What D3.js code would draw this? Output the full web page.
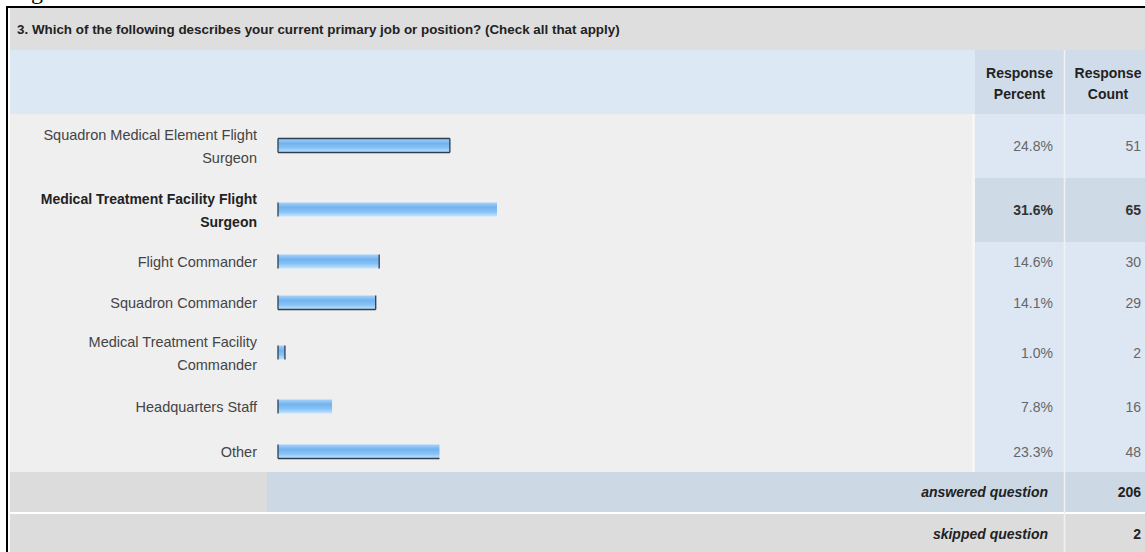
<!DOCTYPE html>
<html>
<head>
<meta charset="utf-8">
<script src="https://cdn.jsdelivr.net/npm/d3@7"></script>
<style>
  body { margin: 0; background: #fff; }
  svg { display: block; font-family: Arial, "Liberation Sans", sans-serif; }
</style>
</head>
<body>
<svg id="chart" width="1145" height="552"></svg>
<script>
// ---- data ----
const caption = "Figure 4. Current Position Held";
const question = "3. Which of the following describes your current primary job or position? (Check all that apply)";
const categories = [
  "Squadron Medical Element Flight\nSurgeon",
  "Medical Treatment Facility Flight\nSurgeon",
  "Flight Commander",
  "Squadron Commander",
  "Medical Treatment Facility\nCommander",
  "Headquarters Staff",
  "Other"
];
const percents = [24.8, 31.6, 14.6, 14.1, 1.0, 7.8, 23.3];
const counts = [51, 65, 30, 29, 2, 16, 48];
const columnHeaders = ["Response\nPercent", "Response\nCount"];
const summaryLabels = ["answered question", "skipped question"];
const summaryValues = [206, 2];
const highlighted = 1;               // row shown in bold
const barEdges = ["ltrb", "l", "lr", "lrb", "lr", "l", "lb"];

// ---- layout ----
const svg = d3.select("#chart");
const W = 1145;
const L = 10;                 // inner left edge of the table
const titleTop = 8, headerTop = 50, bodyTop = 114;
const pctX0 = 975;
const labelRight = 257;
const rowHeights = [64, 64, 40, 42, 58, 50, 40];

const x = d3.scaleLinear().domain([0, 100]).range([278, 971]);

const lines = categories.map(c => c.split("\n"));
const rowTop = [];
rowHeights.reduce((acc, h, i) => { rowTop[i] = acc; return acc + h; }, bodyTop);
const bodyBottom = rowTop[rowTop.length - 1] + rowHeights[rowHeights.length - 1];
const mid = i => rowTop[i] + rowHeights[i] / 2;

// ---- caption line, running above the frame ----
svg.append("text")
  .attr("x", 11).attr("y", -1)
  .attr("font-family", "'Liberation Serif', 'Times New Roman', serif")
  .attr("font-size", 24)
  .attr("fill", "#000")
  .text(caption);

svg.append("rect").attr("x", 0).attr("y", 6).attr("width", W).attr("height", 552)
  .attr("fill", "#fff");

// ---- title bar ----
svg.append("rect").attr("x", L).attr("y", titleTop).attr("width", W - L).attr("height", headerTop - titleTop)
  .attr("fill", "#dedede");
svg.append("text").attr("x", 17).attr("y", 34)
  .attr("font-size", 13.4).attr("font-weight", "bold").attr("fill", "#222")
  .text(question);

// ---- header row ----
svg.append("rect").attr("x", L).attr("y", headerTop).attr("width", pctX0 - L).attr("height", bodyTop - headerTop)
  .attr("fill", "#dde8f5");
svg.append("rect").attr("x", pctX0).attr("y", headerTop).attr("width", W - pctX0).attr("height", bodyTop - headerTop)
  .attr("fill", "#d0dce9");

const headerCenters = [1019.5, 1108];
columnHeaders.forEach((h, i) => {
  const t = svg.append("text")
    .attr("text-anchor", "middle")
    .attr("font-size", 14).attr("font-weight", "bold").attr("fill", "#222");
  h.split("\n").forEach((s, j) => {
    t.append("tspan").attr("x", headerCenters[i]).attr("y", 78 + j * 20.5).text(s);
  });
});

// ---- body rows ----
const rows = svg.append("g").selectAll("g").data(categories).join("g");

rows.append("rect")
  .attr("x", L).attr("y", (d, i) => rowTop[i]).attr("width", 962).attr("height", (d, i) => rowHeights[i])
  .attr("fill", "#efefef");
rows.append("rect")
  .attr("x", 972).attr("y", (d, i) => rowTop[i]).attr("width", 3).attr("height", (d, i) => rowHeights[i])
  .attr("fill", "#f6f6f6");
rows.append("rect")
  .attr("x", pctX0).attr("y", (d, i) => rowTop[i]).attr("width", W - pctX0).attr("height", (d, i) => rowHeights[i])
  .attr("fill", (d, i) => i === highlighted ? "#cfdae7" : "#dde7f4");

// category labels
rows.append("text")
  .attr("text-anchor", "end")
  .attr("font-size", (d, i) => i === highlighted ? 14 : 14.5)
  .attr("font-weight", (d, i) => i === highlighted ? "bold" : "normal")
  .attr("fill", (d, i) => i === highlighted ? "#222" : "#444")
  .each(function (d, i) {
    const ls = lines[i];
    const base = ls.length === 2 ? mid(i) - 6.5 : mid(i) + 5;
    ls.forEach((s, j) => {
      d3.select(this).append("tspan")
        .attr("x", labelRight).attr("y", base + j * 23.5).text(s);
    });
  });

// bars
const defs = svg.append("defs");
const grad = defs.append("linearGradient").attr("id", "barFill")
  .attr("x1", 0).attr("y1", 0).attr("x2", 0).attr("y2", 1);
[["0%", "#a6d1fa"], ["35%", "#72b3ee"], ["65%", "#86c1f5"], ["100%", "#c4e5fd"]]
  .forEach(([o, c]) => grad.append("stop").attr("offset", o).attr("stop-color", c));

const barH = 14;
const barY = i => mid(i) - barH / 2 - 0.5;

rows.append("rect")
  .attr("x", x(0)).attr("y", (d, i) => barY(i))
  .attr("width", (d, i) => x(percents[i]) - x(0)).attr("height", barH)
  .attr("fill", "url(#barFill)");

rows.each(function (d, i) {
  const g = d3.select(this);
  const x0 = x(0), x1 = x(percents[i]), y0 = barY(i), y1 = barY(i) + barH;
  const edge = (a, b, c, e) => g.append("line")
    .attr("x1", a).attr("y1", b).attr("x2", c).attr("y2", e)
    .attr("stroke", "#2c3e52").attr("stroke-width", 1.3);
  if (barEdges[i].includes("l")) edge(x0, y0, x0, y1);
  if (barEdges[i].includes("r")) edge(x1, y0, x1, y1);
  if (barEdges[i].includes("t")) edge(x0, y0, x1, y0);
  if (barEdges[i].includes("b")) edge(x0, y1, x1, y1);
});

// values
rows.append("text")
  .attr("x", 1053).attr("y", (d, i) => mid(i) + 5)
  .attr("text-anchor", "end").attr("font-size", 14)
  .attr("font-weight", (d, i) => i === highlighted ? "bold" : "normal")
  .attr("fill", (d, i) => i === highlighted ? "#333" : "#666")
  .text((d, i) => d3.format(".1f")(percents[i]) + "%");
rows.append("text")
  .attr("x", 1141).attr("y", (d, i) => mid(i) + 5)
  .attr("text-anchor", "end").attr("font-size", 14)
  .attr("font-weight", (d, i) => i === highlighted ? "bold" : "normal")
  .attr("fill", (d, i) => i === highlighted ? "#333" : "#666")
  .text((d, i) => counts[i]);

// ---- summary rows ----
const sumTop = [bodyBottom, bodyBottom + 42];
const sumH = [40, 40];
summaryLabels.forEach((lab, i) => {
  svg.append("rect").attr("x", L).attr("y", sumTop[i]).attr("width", W - L).attr("height", sumH[i])
    .attr("fill", "#dcdcdc");
  if (i === 0) {
    svg.append("rect").attr("x", 267).attr("y", sumTop[i]).attr("width", W - 267).attr("height", sumH[i])
      .attr("fill", "#cdd8e5");
  }
  const cy = sumTop[i] + sumH[i] / 2 + 5;
  svg.append("text").attr("x", 1048).attr("y", cy)
    .attr("text-anchor", "end").attr("font-size", 14)
    .attr("font-weight", "bold").attr("font-style", "italic").attr("fill", "#222")
    .text(lab);
  svg.append("text").attr("x", 1141).attr("y", cy)
    .attr("text-anchor", "end").attr("font-size", 14)
    .attr("font-weight", "bold").attr("fill", "#222")
    .text(summaryValues[i]);
});

// column divider between percent and count
svg.append("line").attr("x1", 1064.5).attr("x2", 1064.5).attr("y1", headerTop).attr("y2", 552)
  .attr("stroke", "#eef2f7").attr("stroke-width", 1.5);

// ---- frame ----
svg.append("line").attr("x1", 6).attr("x2", W).attr("y1", 7).attr("y2", 7)
  .attr("stroke", "#000").attr("stroke-width", 2);
svg.append("line").attr("x1", 7).attr("x2", 7).attr("y1", 6).attr("y2", 552)
  .attr("stroke", "#000").attr("stroke-width", 2);
</script>
</body>
</html>
